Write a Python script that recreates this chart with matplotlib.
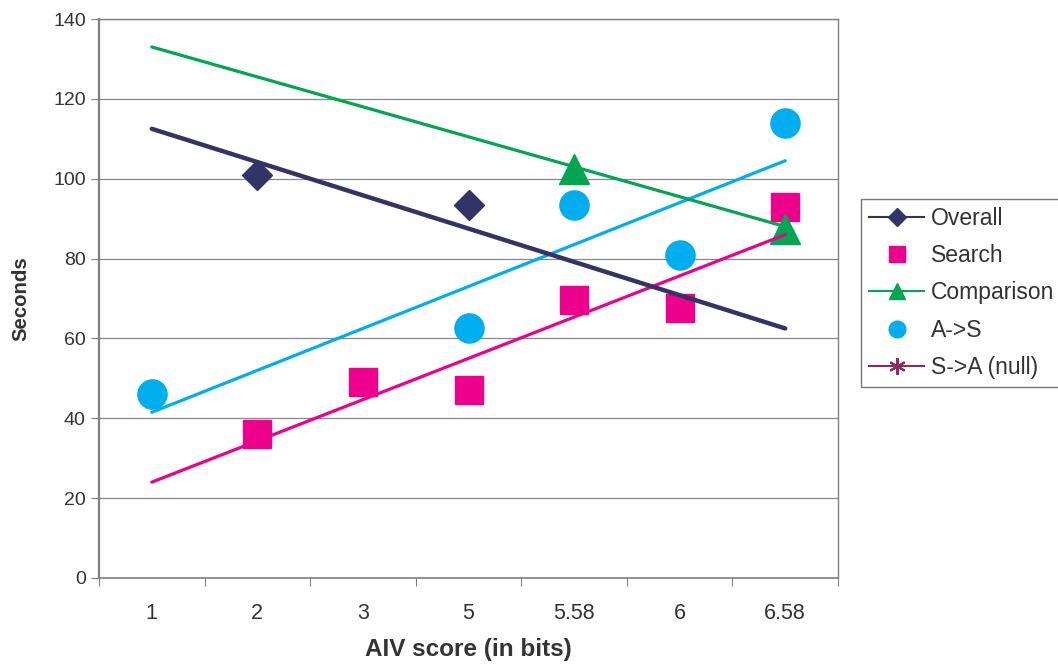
import numpy as np
import matplotlib
matplotlib.use("Agg")
import matplotlib.pyplot as plt
from matplotlib.lines import Line2D

plt.rcParams['font.family'] = ['Liberation Sans', 'DejaVu Sans']

# ---- data ----
categories = ['1', '2', '3', '5', '5.58', '6', '6.58']
nan = np.nan
overall = [nan, 101.0, nan, 93.5, nan, nan, nan]
search = [nan, 36.0, 49.0, 47.0, 69.5, 67.5, 93.0]
comparison = [nan, nan, nan, nan, 102.5, nan, 87.5]
a_to_s = [46.0, nan, nan, 62.5, 93.5, 81.0, 114.0]
# linear trendline end values (at first and last category)
overall_trend = [112.5, 62.5]
search_trend = [24.0, 86.0]
comparison_trend = [133.0, 88.0]
a_to_s_trend = [41.5, 104.5]
y_ticks = [0, 20, 40, 60, 80, 100, 120, 140]

c_overall = '#333366'
c_search = '#EC008C'
c_comp = '#00A651'
c_as = '#00AEEF'
c_sa = '#8E2A5E'
txt = '#333333'
grey = '#808080'

fig = plt.figure(figsize=(10.58, 6.69), dpi=100)
ax = fig.add_axes([99/1058, 1-578/669, (838-99)/1058, (578-19)/669])

x = np.arange(len(categories))
ends = [x[0], x[-1]]

# markers
ax.plot(x, overall, linestyle='none', marker='D', ms=15, color=c_overall, mec=c_overall, zorder=3)
ax.plot(x, search, linestyle='none', marker='s', ms=20.5, color=c_search, mec=c_search, zorder=3)
ax.plot(x, comparison, linestyle='none', marker='^', ms=21, color=c_comp, mec=c_comp, zorder=3)
ax.plot(x, a_to_s, linestyle='none', marker='o', ms=21, color=c_as, mec=c_as, zorder=3)

# trendlines (on top of markers)
ax.plot(ends, a_to_s_trend, color=c_as, lw=2.3, solid_capstyle='round', zorder=4)
ax.plot(ends, comparison_trend, color=c_comp, lw=2.3, solid_capstyle='round', zorder=4)
ax.plot(ends, search_trend, color=c_search, lw=2.3, solid_capstyle='round', zorder=4)
ax.plot(ends, overall_trend, color=c_overall, lw=3.2, solid_capstyle='round', zorder=5)

ax.set_xlim(-0.5, len(categories) - 0.5)
ax.set_ylim(0, 140)
ax.set_yticks(y_ticks)
ax.set_xticks(x)
ax.set_xticklabels(categories)
ax.set_xticks(np.arange(len(categories) + 1) - 0.5, minor=True)
ax.tick_params(axis='x', which='major', length=0, pad=18, labelsize=15.5, labelcolor=txt)
ax.tick_params(axis='x', which='minor', length=5.5, width=0.8, color=grey, direction='out')
ax.tick_params(axis='y', which='major', length=5.5, width=0.8, color=grey, direction='out',
               labelsize=14, labelcolor=txt, pad=4)

ax.yaxis.grid(True, color='#888888', lw=0.9)
ax.set_axisbelow(True)
for s in ax.spines.values():
    s.set_color(grey)
    s.set_linewidth(1.0)
ax.spines['left'].set_linewidth(1.6)
ax.spines['bottom'].set_linewidth(1.2)

ax.set_xlabel('AIV score (in bits)', fontsize=17.5, fontweight='bold', color=txt, labelpad=10)
ax.set_ylabel('Seconds', fontsize=14.7, fontweight='bold', color=txt, labelpad=16)

handles = [
    Line2D([], [], color=c_overall, lw=1.5, marker='D', ms=9, mec=c_overall),
    Line2D([], [], color=c_search, lw=0, marker='s', ms=12, mec=c_search),
    Line2D([], [], color=c_comp, lw=1.5, marker='^', ms=12, mec=c_comp),
    Line2D([], [], color=c_as, lw=0, marker='o', ms=12, mec=c_as),
    Line2D([], [], color=c_sa, lw=1.5, marker=(6, 2, 0), ms=12, mew=1.5, mec=c_sa),
]
labels = ['Overall', 'Search', 'Comparison', 'A->S', 'S->A (null)']
leg = fig.legend(handles, labels, loc='upper left', bbox_to_anchor=(861/1058, 1-199/669),
                 borderaxespad=0, fontsize=16.5, frameon=True, fancybox=False,
                 handlelength=2.4, handletextpad=0.3, labelspacing=0.62, borderpad=0.35,
                 labelcolor=txt)
leg.get_frame().set_edgecolor('#555555')
leg.get_frame().set_linewidth(1.0)

fig.savefig('out.png', dpi=100)
